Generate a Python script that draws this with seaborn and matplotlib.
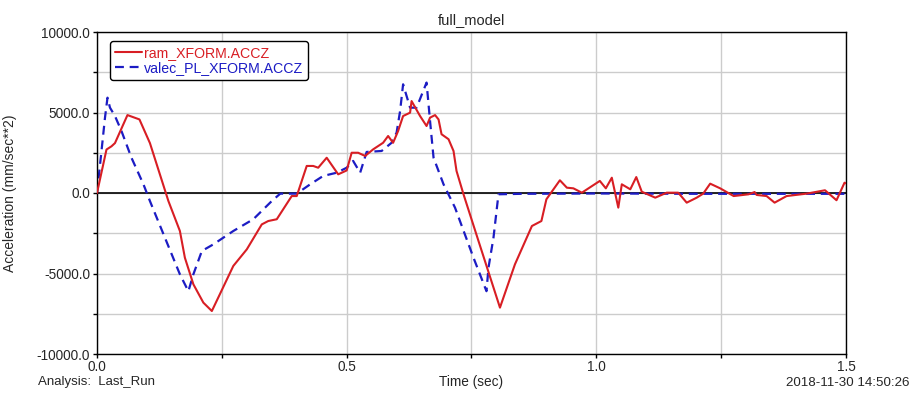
import matplotlib
matplotlib.use("Agg")
import matplotlib.pyplot as plt
import seaborn as sns
import pandas as pd
from matplotlib.ticker import MultipleLocator, FixedLocator, FormatStrFormatter

# ---- data ----
ram_t = [0.0, 0.019, 0.029, 0.036, 0.061, 0.085, 0.106, 0.143, 0.166, 0.176, 0.193, 0.213,
         0.230, 0.246, 0.273, 0.300, 0.330, 0.343, 0.360, 0.390, 0.400, 0.420, 0.433, 0.443,
         0.460, 0.483, 0.500, 0.510, 0.523, 0.537, 0.553, 0.573, 0.583, 0.593, 0.603, 0.613,
         0.627, 0.630, 0.647, 0.660, 0.667, 0.677, 0.684, 0.690, 0.704, 0.714, 0.720, 0.734,
         0.764, 0.807, 0.837, 0.871, 0.890, 0.900, 0.927, 0.941, 0.954, 0.971, 1.007, 1.019,
         1.031, 1.044, 1.051, 1.068, 1.080, 1.091, 1.118, 1.141, 1.164, 1.181, 1.201, 1.214,
         1.228, 1.248, 1.275, 1.305, 1.317, 1.321, 1.341, 1.357, 1.381, 1.421, 1.458, 1.481,
         1.497, 1.500]
ram_v = [0, 2700, 2900, 3100, 4840, 4570, 3100, -500, -2360, -4020, -5670, -6810,
         -7330, -6290, -4530, -3500, -1950, -1740, -1630, -190, -190, 1680, 1680, 1570,
         2190, 1160, 1400, 2500, 2500, 2300, 2710, 3120, 3540, 3120, 3850, 4780,
         4990, 5710, 4780, 4160, 4680, 4840, 4570, 3650, 3340, 2610, 1370, -80,
         -2980, -7120, -4430, -2050, -1740, -390, 790, 330, 290, 20, 750, 290,
         950, -910, 540, 230, 990, 80, -290, 20, 20, -600, -290, -40,
         580, 290, -190, -80, 60, -120, -190, -600, -190, -40, 170, -450,
         640, 600]

valec_t = [0.0, 0.009, 0.016, 0.021, 0.026, 0.036, 0.049, 0.069, 0.093, 0.106, 0.166, 0.183,
           0.193, 0.210, 0.233, 0.273, 0.313, 0.350, 0.367, 0.400, 0.427, 0.453, 0.480, 0.500,
           0.513, 0.527, 0.540, 0.570, 0.590, 0.600, 0.607, 0.613, 0.627, 0.640, 0.660, 0.667,
           0.674, 0.694, 0.717, 0.754, 0.780, 0.784, 0.794, 0.804, 0.850, 1.000, 1.200, 1.500]
valec_v = [0, 2610, 4680, 5920, 5300, 4780, 3850, 2190, 540, -500, -5050, -6100,
           -5050, -3600, -3190, -2360, -1630, -500, -40, -40, 540, 1060, 1260, 1570,
           1990, 1260, 2550, 2610, 3120, 3750, 5090, 6750, 5300, 5300, 6860, 4470,
           2190, 540, -910, -4020, -6100, -4640, -2780, -80, -50, -30, -50, -50]

series_names = ["ram_XFORM.ACCZ", "valec_PL_XFORM.ACCZ"]
title = "full_model"
ylabel = "Acceleration (mm/sec**2)"
xlabel = "Time (sec)"
left_note = "Analysis:  Last_Run"
right_note = "2018-11-30 14:50:26"

# ---- style ----
sns.set_style("white")
plt.rcParams["font.family"] = ["Liberation Sans", "DejaVu Sans"]

fig = plt.figure(figsize=(9.12, 4.0), dpi=100)
ax = fig.add_axes([97 / 912, 1 - 354 / 400, 749 / 912, 322 / 400])

red = "#d81e24"
blue = "#1c1cc4"

df_r = pd.DataFrame({"t": ram_t, "v": ram_v})
df_b = pd.DataFrame({"t": valec_t, "v": valec_v})

ax.axhline(0, color="black", lw=1.2, zorder=1)
sns.lineplot(data=df_r, x="t", y="v", color=red, lw=1.5, ax=ax, sort=False,
             estimator=None, label=series_names[0], zorder=3)
sns.lineplot(data=df_b, x="t", y="v", color=blue, lw=1.6, ax=ax, sort=False,
             estimator=None, label=series_names[1], zorder=2, linestyle=(0, (4, 2.6)))

ax.set_xlim(0, 1.5)
ax.set_ylim(-10000, 10000)
ax.xaxis.set_major_locator(FixedLocator([0.0, 0.5, 1.0, 1.5]))
ax.xaxis.set_minor_locator(MultipleLocator(0.25))
ax.yaxis.set_major_locator(MultipleLocator(5000))
ax.yaxis.set_minor_locator(MultipleLocator(2500))
ax.xaxis.set_major_formatter(FormatStrFormatter("%.1f"))
ax.yaxis.set_major_formatter(FormatStrFormatter("%.1f"))
ax.grid(True, which="both", color="#cccccc", lw=1.0, zorder=0)
ax.set_axisbelow(True)
ax.tick_params(axis="both", which="both", direction="out", length=3, width=1,
               color="black", pad=2, bottom=True, left=True)
ax.tick_params(axis="x", labelsize=9.8, pad=1.5)
ax.tick_params(axis="y", labelsize=9.8, pad=2)
for s in ax.spines.values():
    s.set_color("black")
    s.set_linewidth(1.0)

ax.set_xlabel("")
ax.set_ylabel(ylabel, fontsize=10)
ax.yaxis.set_label_coords((17 - 97) / 749, 0.5)
ax.set_title(title, fontsize=10.5, pad=6)

leg = ax.legend(loc="upper left", bbox_to_anchor=(13 / 749, 1 - 9 / 322),
                borderaxespad=0, frameon=True, fancybox=True, framealpha=1,
                edgecolor="black", fontsize=10.2, handlelength=1.9, handletextpad=0.15,
                labelspacing=0.05, borderpad=0.35, labelcolor="linecolor")
leg.get_frame().set_linewidth(1.0)

fig.text(38 / 912, 1 - 382 / 400, left_note, fontsize=9.5, va="center", ha="left")
fig.text(471 / 912, 1 - 382 / 400, xlabel, fontsize=9.8, va="center", ha="center")
fig.text(910 / 912, 1 - 383 / 400, right_note, fontsize=9.6, va="center", ha="right")

fig.savefig("out.png", dpi=100)
